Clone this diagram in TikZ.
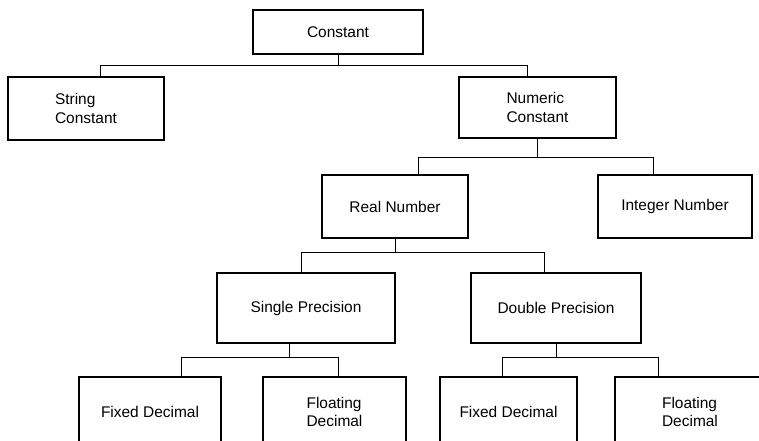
\documentclass[tikz,border=0pt]{standalone}
\usepackage{fontspec}
\setmainfont{Liberation Sans}

\begin{document}
\begin{tikzpicture}[x=0.025cm, y=-0.025cm,
    box/.style={draw, line width=1.3pt, align=left, inner sep=0pt,
        font=\fontsize{11}{13}\selectfont},
    link/.style={line width=0.7pt}]
    \useasboundingbox (0,0) rectangle (759,441);
    \clip (0,0) rectangle (759,441);
    % boxes
    \node[box, minimum width=4.25cm, minimum height=1.1cm] (const) at (338,32) {Constant};
    \node[box, minimum width=3.9cm, minimum height=1.575cm] (str) at (86,108.5) {String\\Constant};
    \node[box, minimum width=3.925cm, minimum height=1.525cm] (num) at (537.5,107.5) {Numeric\\Constant};
    \node[box, minimum width=3.65cm, minimum height=1.575cm] (real) at (395,206.5) {Real Number};
    \node[box, minimum width=3.85cm, minimum height=1.575cm] (int) at (675,206.5) {Integer Number};
    \node[box, minimum width=4.45cm, minimum height=1.75cm] (single) at (306,308) {Single Precision};
    \node[box, minimum width=4.25cm, minimum height=1.75cm] (double) at (556,308) {Double Precision};
    \node[box, minimum width=3.55cm, minimum height=1.75cm] (fixA) at (150,412) {Fixed Decimal};
    \node[box, minimum width=3.575cm, minimum height=1.75cm] (floA) at (334.5,412) {Floating\\Decimal};
    \node[box, minimum width=3.425cm, minimum height=1.75cm] (fixB) at (508.5,412) {Fixed Decimal};
    \node[box, minimum width=3.75cm, minimum height=1.75cm] (floB) at (690,412) {Floating\\Decimal};
    % connectors
    \draw[link] (const.south) -- ++(0,11) coordinate (busA);
    \draw[link] ([xshift=0.35cm]str.north) |- (busA) -| ([xshift=-0.26cm]num.north);
    \draw[link] (num.south) -- ++(0,19) coordinate (busB);
    \draw[link] ([xshift=0.575cm]real.north) |- (busB) -| ([xshift=-0.55cm]int.north);
    \draw[link] (real.south) -- ++(0,14) coordinate (busC);
    \draw[link] ([xshift=-0.125cm]single.north) |- (busC) -| ([xshift=-0.3cm]double.north);
    \draw[link] ([xshift=-0.425cm]single.south) -- ++(0,14) coordinate (busD);
    \draw[link] ([xshift=0.775cm]fixA.north) |- (busD) -| ([xshift=0.11cm]floA.north);
    \draw[link] (double.south) -- ++(0,14) coordinate (busE);
    \draw[link] ([xshift=-0.16cm]fixB.north) |- (busE) -| ([xshift=-0.8cm]floB.north);
\end{tikzpicture}
\end{document}
